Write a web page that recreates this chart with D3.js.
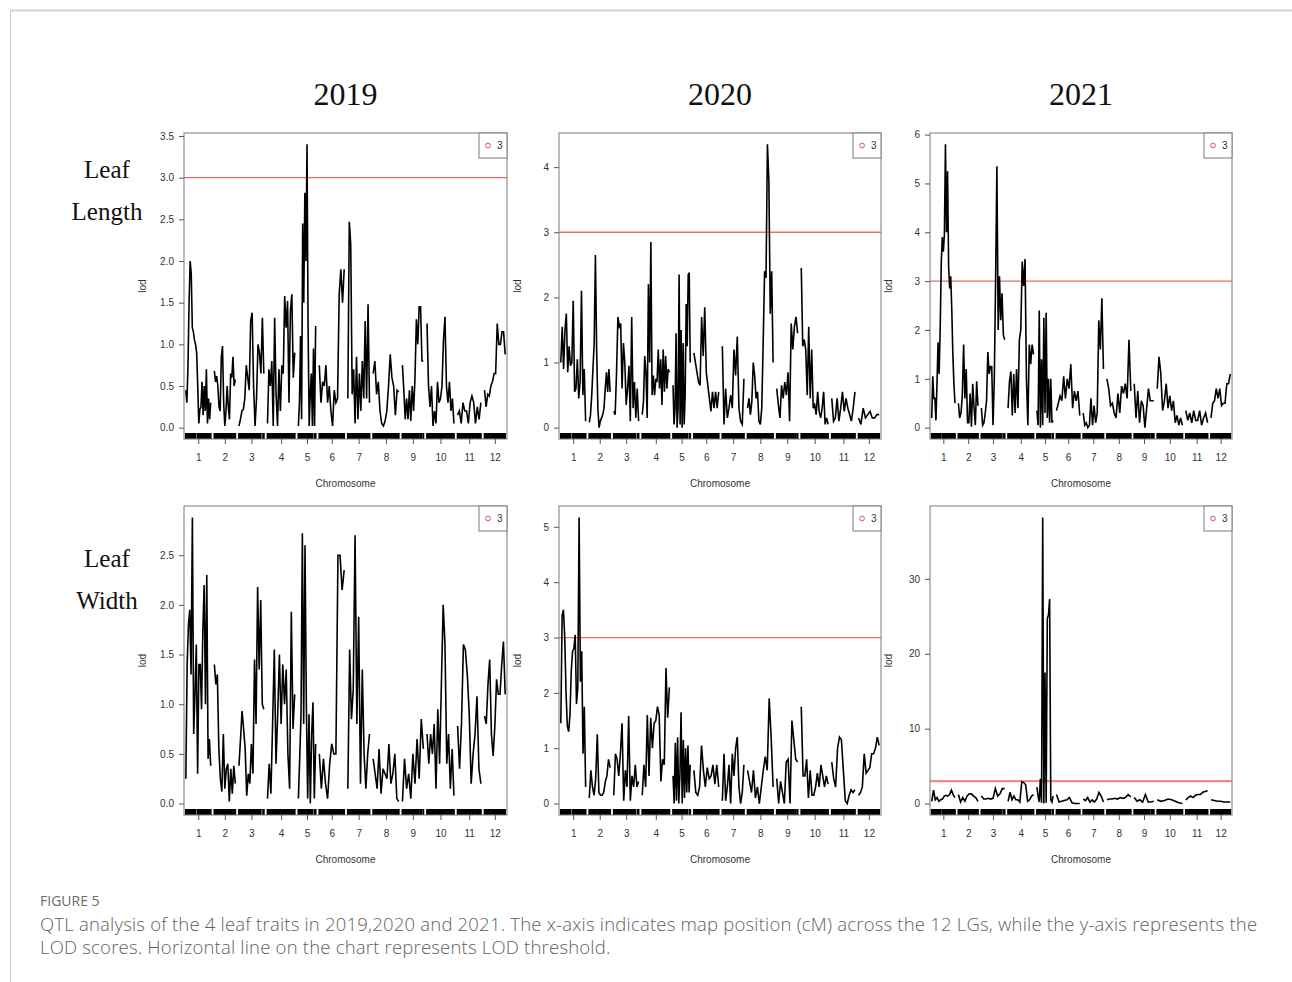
<!DOCTYPE html>
<html>
<head>
<meta charset="utf-8">
<script src="https://cdn.jsdelivr.net/npm/d3@7"></script>
<style>
  body { margin: 0; background: #fff; }
  svg text { font-family: "Liberation Sans", Arial, sans-serif; }
</style>
</head>
<body>
<svg id="fig" width="1292" height="982"></svg>
<script>
// ---- data ----
const chromosomes = ["1", "2", "3", "4", "5", "6", "7", "8", "9", "10", "11", "12"];
const chrLengths = [170, 143, 170, 186, 118, 170, 148, 175, 143, 184, 159, 141]; // cM
const chrGap = 25;
const lodThreshold = 3;

const years = ["2019", "2020", "2021"];
const traitLabels = [["Leaf", "Length"], ["Leaf", "Width"]];

// marker positions (cM from chromosome start), used for the rug
const markers = [
    [0, 7, 15, 22, 30, 37, 45, 52, 60, 67, 82, 89, 97, 104, 112, 119, 127, 134, 142, 149, 157, 164, 170],
    [0, 8, 15, 23, 30, 38, 45, 53, 60, 68, 75, 83, 90, 98, 105, 113, 120, 128, 135, 143],
    [0, 7, 15, 22, 30, 37, 45, 52, 60, 67, 75, 82, 90, 97, 105, 112, 120, 127, 135, 142, 149, 165, 170],
    [0, 8, 15, 23, 31, 38, 46, 54, 61, 69, 77, 84, 92, 100, 107, 115, 123, 130, 138, 146, 153, 161, 169, 177, 186],
    [0, 7, 15, 22, 30, 37, 45, 52, 60, 67, 75, 82, 90, 97, 112, 118],
    [0, 8, 15, 23, 30, 38, 45, 53, 60, 68, 75, 83, 90, 98, 105, 113, 120, 128, 135, 143, 150, 158, 165, 170],
    [0, 7, 15, 22, 30, 37, 45, 52, 60, 67, 75, 82, 90, 97, 105, 112, 120, 127, 135, 142, 148],
    [0, 8, 15, 23, 30, 38, 46, 53, 61, 68, 76, 84, 91, 99, 106, 114, 122, 129, 137, 144, 152, 160, 167, 175],
    [0, 8, 15, 23, 30, 38, 45, 53, 60, 68, 75, 83, 90, 98, 105, 113, 125, 131, 143],
    [0, 8, 15, 23, 31, 38, 46, 54, 61, 69, 77, 84, 92, 100, 107, 115, 123, 130, 138, 146, 153, 161, 169, 176, 184],
    [0, 8, 16, 24, 32, 40, 48, 56, 64, 72, 80, 88, 95, 103, 111, 119, 127, 135, 143, 151, 159],
    [0, 7, 15, 22, 30, 37, 45, 52, 60, 67, 75, 82, 90, 97, 105, 112, 120, 127, 135, 141]
];

// LOD profiles, one array per chromosome (values evenly spread along the chromosome)
const lodLength2019 = [
    [0.45, 0.3, 0.75, 1.5, 2.0, 1.85, 1.2, 1.15, 1.05, 1.0, 0.9, 0.5, 0.05, 0.22, 0.25, 0.55, 0.15, 0.5, 0.2, 0.7, 0.05, 0.35, 0.1, 0.3],
    [0.68, 0.55, 0.62, 0.5, 0.25, 0.2, 0.85, 0.98, 0.3, 0.02, 0.2, 0.5, 0.25, 0.1, 0.65, 0.6, 0.85, 0.5, 0.58],
    [0.02, 0.1, 0.2, 0.22, 0.35, 0.75, 0.6, 0.45, 1.28, 1.38, 0.5, 0.02, 0.35, 1.0, 0.9, 0.65, 1.32, 0.65],
    [0.05, 0.7, 0.5, 0.8, 0.02, 1.32, 0.4, 0.02, 0.7, 0.2, 0.75, 0.65, 1.58, 1.2, 1.52, 0.3, 1.4, 1.6, 0.6, 0.9],
    [0.02, 0.3, 1.1, 0.1, 2.45, 1.5, 2.82, 2.0, 3.4, 1.2, 0.02, 0.4, 0.65, 0.02, 0.95, 0.02, 1.22],
    [0.75, 0.3, 0.55, 0.5, 0.75, 0.3, 0.5, 0.2, 0.02, 0.45, 0.3, 0.35, 1.6, 1.9, 1.5, 1.9],
    [0.35, 2.47, 2.2, 0.4, 0.7, 0.05, 0.85, 0.1, 0.65, 0.2, 0.8, 0.35, 1.28, 0.35, 1.48, 0.3],
    [0.65, 0.8, 0.4, 0.55, 0.2, 0.05, 0.02, 0.08, 0.2, 0.5, 0.88, 0.6, 0.5, 0.15, 0.45, 0.43],
    [0.75, 0.45, 0.1, 0.35, 0.1, 0.45, 0.08, 0.5, 0.2, 0.6, 1.3, 1.0, 1.45, 1.45, 0.8, 0.8],
    [1.25, 0.5, 0.25, 0.5, 0.02, 0.2, 0.05, 0.55, 0.3, 0.35, 0.5, 1.05, 1.33, 0.5, 0.3, 0.55, 0.2, 0.35, 0.05],
    [0.15, 0.2, 0.05, 0.3, 0.2, 0.2, 0.05, 0.3, 0.38, 0.3, 0.05, 0.25, 0.1, 0.3],
    [0.45, 0.25, 0.4, 0.38, 0.5, 0.55, 0.65, 0.65, 1.25, 1.0, 1.0, 1.15, 1.15, 0.88]
];
const lodLength2020 = [
    [1.0, 1.55, 0.9, 1.5, 1.75, 0.85, 1.25, 0.95, 1.0, 1.95, 0.55, 0.6, 1.05, 0.45, 0.7, 2.1, 0.5, 0.9, 0.1],
    [0.08, 0.2, 0.5, 0.9, 1.3, 2.65, 1.2, 0.3, 0.0, 0.1, 0.15, 0.2, 0.3, 0.6, 0.85, 0.55, 0.9, 0.55],
    [0.25, 0.2, 0.85, 1.7, 1.55, 1.6, 0.6, 1.3, 1.0, 0.35, 0.6, 0.95, 0.1, 1.7, 0.3, 0.7, 0.15, 0.6, 0.1],
    [0.2, 0.4, 1.1, 0.85, 0.15, 2.2, 1.0, 2.85, 0.5, 0.8, 0.5, 0.75, 0.7, 1.2, 0.6, 1.05, 0.35, 1.2, 0.55, 1.1, 0.6, 0.9, 0.85],
    [0.65, 0.05, 0.3, 1.45, 0.0, 0.3, 2.35, 0.05, 1.5, 0.0, 1.3, 0.05, 0.5, 1.9, 1.25, 2.35, 2.38, 1.0],
    [1.15, 1.0, 0.85, 0.7, 0.65, 1.7, 1.1, 1.85, 0.85, 0.65, 0.45, 0.25, 0.55, 0.3, 0.55, 0.3, 0.55],
    [1.25, 0.05, 0.6, 0.15, 0.3, 0.5, 0.3, 1.2, 0.8, 1.4, 0.3, 0.1, 0.05, 0.75],
    [0.3, 0.45, 0.2, 0.4, 1.0, 0.8, 0.45, 0.55, 0.1, 0.05, 0.3, 1.3, 2.4, 2.3, 4.35, 3.8, 1.75, 2.4, 1.0],
    [0.6, 0.35, 0.15, 0.65, 0.45, 0.7, 0.5, 0.85, 0.1, 1.6, 1.2, 1.55, 1.7, 1.45],
    [2.45, 1.25, 1.35, 1.2, 0.5, 1.55, 0.45, 1.2, 0.3, 0.35, 0.2, 0.55, 0.25, 0.15, 0.3, 0.55, 0.05, 0.15, 0.05],
    [0.45, 0.1, 0.15, 0.45, 0.1, 0.3, 0.55, 0.25, 0.45, 0.3, 0.2, 0.1, 0.3, 0.55],
    [0.15, 0.05, 0.3, 0.15, 0.2, 0.25, 0.15, 0.15, 0.2, 0.2]
];
const lodLength2021 = [
    [0.2, 1.05, 0.6, 0.6, 0.15, 0.9, 1.75, 1.1, 2.0, 3.35, 3.9, 3.6, 3.95, 5.8, 4.0, 5.25, 3.3, 2.85, 3.1, 2.4, 1.5, 0.9, 0.5],
    [0.5, 0.2, 0.3, 0.65, 1.7, 0.6, 1.2, 0.1, 0.1, 0.7, 0.02, 0.9, 0.4, 0.05, 0.95, 0.45],
    [0.4, 0.05, 0.1, 0.3, 0.55, 1.55, 1.1, 1.25, 1.25, 0.05, 1.0, 3.0, 5.35, 2.0, 3.1, 2.2, 2.75, 1.9, 1.8],
    [0.4, 0.95, 1.15, 0.25, 1.1, 0.3, 1.2, 0.4, 1.8, 2.0, 3.4, 2.9, 3.45, 1.0, 0.05, 1.7, 1.3, 1.7, 1.5],
    [0.35, 0.05, 2.4, 0.0, 1.4, 0.05, 2.25, 0.3, 2.35, 0.2, 1.0, 0.1, 1.0, 0.1, 0.15],
    [0.35, 0.5, 0.65, 0.55, 1.05, 0.6, 1.0, 0.8, 1.3, 0.4, 0.75, 0.55, 0.75, 0.25],
    [0.3, 0.05, 0.1, 0.0, 0.05, 0.6, 0.05, 0.45, 0.1, 0.3, 2.2, 1.6, 2.65, 1.2],
    [1.0, 0.8, 0.45, 0.5, 0.3, 0.2, 0.7, 0.3, 0.85, 0.7, 0.9, 0.6, 1.8, 0.75],
    [0.9, 0.2, 0.75, 0.1, 0.55, 0.45, 0.0, 0.4, 0.8, 0.55, 0.55, 0.55],
    [0.8, 1.45, 1.1, 0.35, 0.55, 0.9, 0.4, 0.65, 0.35, 0.55, 0.1, 0.25, 0.05, 0.2, 0.05],
    [0.35, 0.15, 0.3, 0.1, 0.35, 0.15, 0.15, 0.35, 0.05, 0.2, 0.3, 0.1],
    [0.2, 0.5, 0.55, 0.8, 0.6, 0.8, 0.45, 0.5, 0.5, 0.9, 0.9, 1.1]
];
const lodWidth2019 = [
    [0.25, 1.4, 1.8, 1.95, 1.3, 2.88, 0.7, 1.1, 1.6, 0.3, 1.4, 1.4, 0.95, 1.75, 2.2, 1.0, 2.3, 0.45, 0.65, 0.38],
    [1.4, 1.2, 1.3, 0.55, 0.25, 0.12, 0.7, 0.15, 0.35, 0.4, 0.02, 0.35, 0.1, 0.38, 0.2],
    [0.38, 0.65, 0.93, 0.75, 0.55, 0.08, 0.3, 0.2, 0.6, 0.3, 1.45, 0.8, 2.18, 1.35, 2.05, 1.0, 0.95],
    [0.05, 0.4, 0.1, 0.8, 1.55, 0.4, 0.9, 1.5, 0.8, 1.4, 1.0, 1.35, 0.5, 0.15, 1.93, 0.75, 1.1],
    [0.05, 0.45, 0.9, 2.72, 0.8, 2.6, 1.0, 0.05, 0.9, 0.0, 0.7, 1.02, 0.05, 0.6],
    [0.5, 0.15, 0.45, 0.2, 0.05, 0.4, 0.6, 0.5, 0.5, 2.5, 2.5, 2.15, 2.35],
    [0.15, 1.55, 0.85, 1.15, 2.7, 0.8, 1.88, 0.2, 1.35, 0.5, 0.15, 0.5, 0.7],
    [0.45, 0.3, 0.15, 0.55, 0.1, 0.35, 0.3, 0.25, 0.6, 0.2, 0.3, 0.5, 0.05, 0.02],
    [0.02, 0.45, 0.15, 0.3, 0.05, 0.5, 0.2, 0.65, 0.25, 0.85, 0.55],
    [0.7, 0.4, 0.7, 0.5, 0.8, 0.15, 0.95, 0.4, 1.2, 2.0, 1.6, 0.4, 0.7, 0.15, 0.55, 0.08],
    [0.78, 0.35, 0.8, 1.6, 1.55, 1.3, 0.9, 0.2, 0.5, 0.7, 1.08, 0.35, 0.2],
    [0.88, 0.8, 1.2, 1.45, 0.7, 0.48, 0.78, 1.25, 1.1, 1.1, 1.4, 1.63, 1.1]
];
const lodWidth2020 = [
    [1.45, 3.4, 3.5, 3.0, 2.0, 1.4, 1.3, 1.6, 2.4, 2.75, 2.8, 3.05, 1.8, 2.1, 5.17, 2.2, 2.75, 0.9, 1.75, 0.3],
    [0.1, 0.6, 0.3, 0.15, 0.45, 1.25, 0.2, 0.15, 0.15, 0.2, 0.4, 0.5, 0.8, 0.65],
    [0.15, 0.9, 0.8, 0.5, 0.9, 1.45, 0.05, 0.6, 0.3, 1.58, 0.05, 0.5, 0.3, 0.7, 0.3, 0.4],
    [0.15, 0.7, 0.3, 1.6, 0.5, 1.55, 1.0, 1.45, 1.5, 1.75, 1.6, 0.4, 0.8, 0.7, 2.45, 1.55, 2.1],
    [0.5, 0.0, 1.1, 0.05, 1.2, 0.0, 0.5, 1.65, 0.0, 1.15, 0.1, 1.0, 0.2, 1.05, 0.2, 0.7],
    [0.6, 0.2, 0.15, 0.3, 1.05, 0.6, 0.3, 0.65, 0.45, 0.5, 0.7, 0.35, 0.7, 0.3],
    [0.05, 0.9, 0.05, 0.3, 0.7, 0.0, 0.9, 0.5, 1.0, 1.2, 0.3, 0.0, 0.2, 0.7],
    [0.6, 0.4, 0.2, 0.6, 0.1, 0.3, 0.0, 0.3, 0.6, 0.85, 0.6, 1.9, 1.2, 0.3],
    [0.45, 0.0, 0.4, 0.2, 0.0, 0.75, 0.8, 0.0, 1.5, 1.15, 0.8, 0.75],
    [1.75, 0.5, 0.5, 0.8, 0.1, 0.6, 0.15, 0.15, 0.3, 0.55, 0.3, 0.7, 0.5, 0.3, 0.5, 0.35],
    [0.75, 0.45, 0.3, 1.0, 1.2, 1.15, 0.6, 0.05, 0.0, 0.15, 0.25, 0.2, 0.25],
    [0.15, 0.2, 0.3, 0.9, 0.55, 0.6, 0.65, 0.9, 0.9, 1.0, 1.2, 1.05]
];
const lodWidth2021 = [
    [0.3, 1.8, 0.5, 0.8, 0.3, 0.5, 0.6, 1.0, 1.1, 1.0, 1.2, 1.8, 1.2, 0.8],
    [1.2, 0.2, 0.8, 0.3, 1.0, 1.3, 1.3, 1.0, 0.8, 0.3],
    [1.0, 0.6, 0.6, 0.7, 0.6, 0.7, 2.0, 1.0, 1.3, 2.0, 2.0],
    [0.3, 1.5, 0.5, 1.0, 0.5, 0.5, 0.2, 2.9, 2.8, 2.5, 0.3, 0.5, 1.0, 1.2],
    [2.2, 1.0, 0.2, 3.3, 0.1, 38.2, 0.0, 17.5, 0.1, 24.7, 25.2, 27.3, 0.5, 0.2, 1.0],
    [1.2, 0.2, 0.3, 0.4, 0.5, 0.8, 0.1, 0.0, 0.0, 0.0],
    [0.6, 0.4, 0.8, 0.2, 0.5, 0.2, 0.6, 1.5, 1.0, 0.2],
    [0.5, 0.6, 0.6, 0.7, 0.6, 0.8, 0.7, 0.8, 1.2, 0.9],
    [0.8, 0.3, 0.5, 0.2, 1.2, 0.2, 0.2, 0.3],
    [0.5, 0.3, 0.4, 0.6, 0.5, 0.3, 0.1, 0.0],
    [0.5, 0.8, 1.0, 0.8, 1.1, 1.2, 1.2, 1.5, 1.6, 1.7],
    [0.5, 0.4, 0.3, 0.3, 0.2, 0.2, 0.2]
];

// y tick values for each panel
const yTicksLength2019 = [0, 0.5, 1, 1.5, 2, 2.5, 3, 3.5];
const yTicksLength2020 = [0, 1, 2, 3, 4];
const yTicksLength2021 = [0, 1, 2, 3, 4, 5, 6];
const yTicksWidth2019 = [0, 0.5, 1, 1.5, 2, 2.5];
const yTicksWidth2020 = [0, 1, 2, 3, 4, 5];
const yTicksWidth2021 = [0, 10, 20, 30];

const captionTitle = "FIGURE 5";
const captionLines = [
    "QTL analysis of the 4 leaf traits in 2019,2020 and 2021. The x-axis indicates map position (cM) across the 12 LGs, while the y-axis represents the",
    "LOD scores. Horizontal line on the chart represents LOD threshold."
];

// ---- layout ----
const colBox = [[184, 507], [559, 881], [930, 1232]];
const rowBox = [[133, 439], [506, 815]];
const rowLabelBase = [178, 567]; // baseline of the first word of each row label

const panels = [
    { row: 0, col: 0, lod: lodLength2019, ticks: yTicksLength2019, fmt: ".1f" },
    { row: 0, col: 1, lod: lodLength2020, ticks: yTicksLength2020, fmt: "d" },
    { row: 0, col: 2, lod: lodLength2021, ticks: yTicksLength2021, fmt: "d" },
    { row: 1, col: 0, lod: lodWidth2019, ticks: yTicksWidth2019, fmt: ".1f" },
    { row: 1, col: 1, lod: lodWidth2020, ticks: yTicksWidth2020, fmt: "d" },
    { row: 1, col: 2, lod: lodWidth2021, ticks: yTicksWidth2021, fmt: "d" }
];

// chromosome start positions on the genome-wide axis
const chrStart = [];
let acc = 0;
chrLengths.forEach(len => {
    chrStart.push(acc);
    acc += len + chrGap;
});
const mapEnd = acc - chrGap;
const chrMid = chrLengths.map((len, i) => chrStart[i] + len / 2);

const svg = d3.select("#fig");

// page frame
svg.append("line").attr("x1", 10).attr("x2", 1292).attr("y1", 10.5).attr("y2", 10.5)
    .attr("stroke", "#d4d4d4").attr("stroke-width", 2);
svg.append("line").attr("x1", 10.5).attr("x2", 10.5).attr("y1", 10).attr("y2", 982)
    .attr("stroke", "#cfcfcf").attr("stroke-width", 1);

// column titles
years.forEach((yr, i) => {
    svg.append("text")
        .attr("x", (colBox[i][0] + colBox[i][1]) / 2)
        .attr("y", 105)
        .attr("text-anchor", "middle")
        .style("font-family", "'Liberation Serif', 'DejaVu Serif', serif")
        .style("font-size", "32px")
        .attr("fill", "#111")
        .text(yr);
});

// row labels
traitLabels.forEach((lab, r) => {
    lab.forEach((word, k) => {
        svg.append("text")
            .attr("x", 107)
            .attr("y", rowLabelBase[r] + k * 42)
            .attr("text-anchor", "middle")
            .style("font-family", "'Liberation Serif', 'DejaVu Serif', serif")
            .style("font-size", "25px")
            .attr("fill", "#111")
            .text(word);
    });
});

panels.forEach(p => {
    const [x0, x1] = colBox[p.col];
    const [y0, y1] = rowBox[p.row];

    const x = d3.scaleLinear()
        .domain([-chrGap / 2, mapEnd + chrGap / 2])
        .range([x0, x1]);

    const yMax = d3.max(p.lod, c => d3.max(c));
    const y = d3.scaleLinear()
        .domain([-0.04 * yMax, 1.04 * yMax])
        .range([y1, y0]);

    const g = svg.append("g");

    // threshold line (only when it falls inside the plotted range)
    if (lodThreshold < y.domain()[1]) {
        const wide = p.row === 1 && p.col === 2;
        g.append("line")
            .attr("x1", x0).attr("x2", x1)
            .attr("y1", y(lodThreshold)).attr("y2", y(lodThreshold))
            .attr("stroke", wide ? "#f08a8a" : "#ea6a6a")
            .attr("stroke-width", wide ? 2.4 : 1.3);
    }

    // LOD curves, one path per chromosome
    const line = d3.line()
        .x(d => x(d.pos))
        .y(d => y(d.lod));

    p.lod.forEach((vals, ci) => {
        const pts = vals.map((v, i) => ({
            pos: chrStart[ci] + (i / (vals.length - 1)) * chrLengths[ci],
            lod: v
        }));
        g.append("path")
            .datum(pts)
            .attr("d", line)
            .attr("fill", "none")
            .attr("stroke", "#000")
            .attr("stroke-width", 1.6)
            .attr("stroke-linejoin", "miter");
    });

    // marker rug
    markers.forEach((ms, ci) => {
        g.selectAll(null)
            .data(ms)
            .join("line")
            .attr("x1", d => x(chrStart[ci] + d))
            .attr("x2", d => x(chrStart[ci] + d))
            .attr("y1", y1)
            .attr("y2", y1 - 6)
            .attr("stroke", "#000")
            .attr("stroke-width", 1.8);
    });

    // box
    g.append("rect")
        .attr("x", x0).attr("y", y0)
        .attr("width", x1 - x0).attr("height", y1 - y0)
        .attr("fill", "none")
        .attr("stroke", "#7a7a7a")
        .attr("stroke-width", 1);

    // y axis
    const yAxis = d3.axisLeft(y)
        .tickValues(p.ticks)
        .tickFormat(d3.format(p.fmt))
        .tickSize(5)
        .tickSizeOuter(0)
        .tickPadding(5);
    const yg = g.append("g")
        .attr("transform", `translate(${x0},0)`)
        .call(yAxis);
    yg.select(".domain").remove();
    yg.selectAll(".tick line").attr("stroke", "#555");
    yg.selectAll(".tick text")
        .attr("fill", "#333")
        .style("font-size", "10px")
        .style("font-family", "'Liberation Sans', Arial, sans-serif");

    // x axis: one tick per chromosome
    const xAxis = d3.axisBottom(x)
        .tickValues(chrMid)
        .tickFormat((d, i) => chromosomes[i])
        .tickSize(5)
        .tickSizeOuter(0)
        .tickPadding(10);
    const xg = g.append("g")
        .attr("transform", `translate(0,${y1})`)
        .call(xAxis);
    xg.select(".domain").remove();
    xg.selectAll(".tick line").attr("stroke", "#555");
    xg.selectAll(".tick text")
        .attr("fill", "#333")
        .style("font-size", "10px")
        .style("font-family", "'Liberation Sans', Arial, sans-serif");

    // axis titles
    g.append("text")
        .attr("transform", `translate(${x0 - 38},${(y0 + y1) / 2}) rotate(-90)`)
        .attr("text-anchor", "middle")
        .attr("fill", "#333")
        .style("font-size", "10px")
        .text("lod");
    g.append("text")
        .attr("x", (x0 + x1) / 2)
        .attr("y", y1 + 48)
        .attr("text-anchor", "middle")
        .attr("fill", "#333")
        .style("font-size", "10px")
        .text("Chromosome");

    // legend
    const lw = 28, lh = 25;
    const lg = g.append("g").attr("transform", `translate(${x1 - lw},${y0})`);
    lg.append("rect")
        .attr("width", lw).attr("height", lh)
        .attr("fill", "#fff")
        .attr("stroke", "#7a7a7a");
    lg.append("circle")
        .attr("cx", 9).attr("cy", lh / 2)
        .attr("r", 2.4)
        .attr("fill", "none")
        .attr("stroke", "#e05555")
        .attr("stroke-width", 1);
    lg.append("text")
        .attr("x", 18).attr("y", lh / 2 + 3.5)
        .attr("fill", "#333")
        .style("font-size", "10px")
        .text(String(lodThreshold));
});

// caption
svg.append("text")
    .attr("x", 40).attr("y", 906)
    .attr("fill", "#6b6b6b")
    .style("font-family", "'Open Sans', 'Noto Sans', sans-serif")
    .style("font-size", "14px")
    .text(captionTitle);
captionLines.forEach((t, i) => {
    svg.append("text")
        .attr("x", 40).attr("y", 931 + i * 23)
        .attr("fill", "#5f5f5f")
        .style("font-family", "'Open Sans', 'Noto Sans', sans-serif")
        .style("font-size", "18.5px")
        .style("letter-spacing", "0.2px")
        .style("font-weight", 300)
        .text(t);
});
</script>
</body>
</html>
